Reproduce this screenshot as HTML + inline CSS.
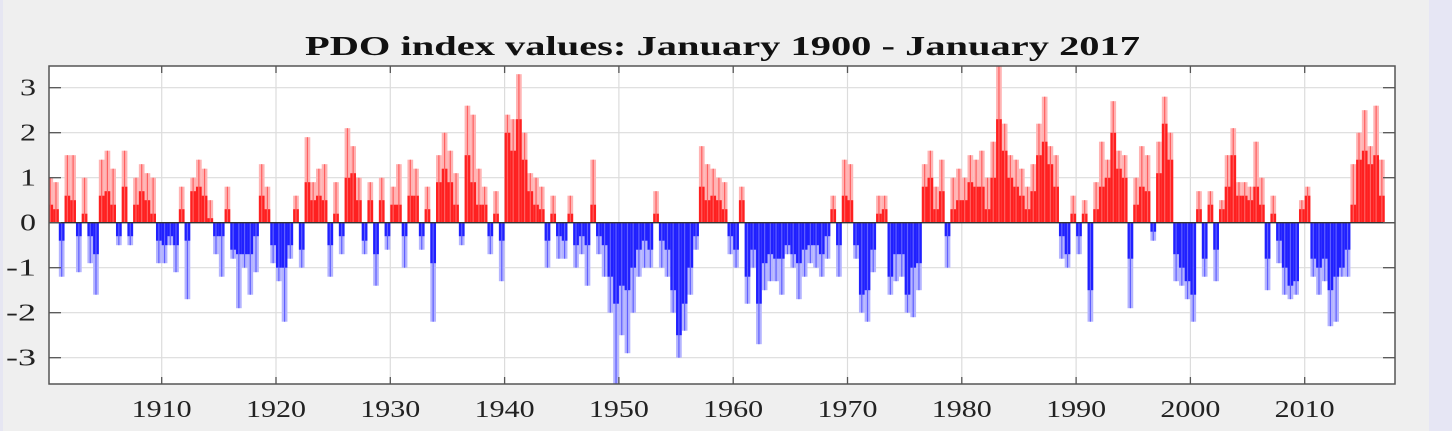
<!DOCTYPE html>
<html><head><meta charset="utf-8"><style>
html,body{margin:0;padding:0;background:#efefef;}
#wrap{position:relative;width:1452px;height:431px;overflow:hidden;background:#efefef;}
#lstrip{position:absolute;left:0;top:0;width:3px;height:431px;background:#e6e6f2;}
#rstrip{position:absolute;left:1429px;top:0;width:23px;height:431px;background:#e6e6f4;}
</style></head><body>
<div id="wrap">
<div id="lstrip"></div>
<div id="rstrip"></div>
<svg id="chart" width="1452" height="431" style="position:absolute;left:0;top:0"></svg>
</div>
<script>
const startYear = 1900;
// half-year core values (solid bars), two per year 1900..2016
const coreValues = [.4,.3,-.4,.6,.5,-.3,.2,-.3,-.7,.6,.7,.4,-.3,.8,-.3,.4,.7,.5,.2,-.4,
-.5,-.3,-.5,.3,-.4,.7,.8,.6,.1,-.3,-.3,.3,-.6,-.7,-.7,-.7,-.3,.6,.3,-.5,
-1.0,-1.0,-.5,.3,-.6,.9,.5,.6,.5,-.5,.2,-.3,1.0,1.1,.5,-.4,.5,-.7,.5,-.3,
.4,.4,-.3,.6,.6,-.3,.3,-.9,.9,1.2,.9,.4,-.3,1.5,.9,.4,.4,-.3,.2,-.4,
2.0,1.6,2.3,1.4,.7,.4,.3,-.4,.2,-.3,-.4,.2,-.5,-.3,-.5,.4,-.3,-.5,-1.2,-1.8,
-1.4,-1.5,-1.0,-.6,-.4,-.6,.2,-.4,-.6,-1.5,-2.5,-1.8,-1.0,-.3,.8,.5,.6,.5,.3,-.3,
-.6,.5,-1.2,-.6,-1.8,-.9,-.7,-.8,-.8,-.5,-.7,-.9,-.6,-.5,-.5,-.7,-.3,.3,-.5,.6,
.5,-.5,-1.6,-1.5,-.6,.2,.3,-1.2,-.7,-.7,-1.6,-1.0,-.9,.8,1.0,.3,.7,-.3,.3,.5,
.5,.9,.8,.8,.3,1.0,2.3,1.6,1.0,.8,.6,.3,.7,1.5,1.8,1.3,.8,-.3,-.7,.2,
-.3,.2,-1.5,.3,.8,1.0,2.0,1.2,1.0,-.8,.4,.8,.7,-.2,1.1,2.2,1.4,-.7,-1.0,-1.3,
-1.6,.3,-.8,.4,-.6,.3,.8,1.5,.6,.6,.5,.8,.4,-.8,.2,-.4,-1.0,-1.4,-1.3,.3,
.6,-.8,-1.0,-.8,-1.5,-1.2,-1.0,-.6,.4,1.4,1.6,1.3,1.5,.6];
// half-year peak monthly values (light bars)
const peakValues = [1.0,.9,-1.2,1.5,1.5,-1.1,1.0,-.9,-1.6,1.4,1.6,1.2,-.5,1.6,-.5,1.0,1.3,1.1,1.0,-.9,
-.9,-.5,-1.1,.8,-1.7,1.0,1.4,1.2,.5,-.7,-1.2,.8,-.8,-1.9,-1.0,-1.6,-1.1,1.3,.8,-.9,
-1.3,-2.2,-.8,.6,-1.0,1.9,.9,1.2,1.3,-1.2,.9,-.7,2.1,1.7,1.0,-.7,.9,-1.4,1.0,-.6,
.8,1.3,-1.0,1.4,1.2,-.6,.8,-2.2,1.5,2.0,1.6,1.1,-.5,2.6,2.4,1.2,.8,-.7,.7,-1.3,
2.4,2.3,3.3,2.0,1.1,1.0,.8,-1.0,.6,-.8,-.8,.6,-1.0,-.7,-1.4,1.4,-.7,-1.2,-2.0,-3.6,
-2.5,-2.9,-2.0,-1.2,-1.0,-1.0,.7,-1.0,-1.2,-2.0,-3.0,-2.4,-1.6,-.6,1.7,1.3,1.2,1.0,.9,-.7,
-1.0,.8,-1.8,-1.0,-2.7,-1.5,-1.3,-1.3,-1.6,-.7,-1.0,-1.7,-1.2,-.9,-1.0,-1.2,-.8,.6,-1.2,1.4,
1.3,-.8,-2.0,-2.2,-1.1,.6,.6,-1.6,-1.3,-1.2,-2.0,-2.1,-1.5,1.3,1.6,.8,1.4,-1.0,1.0,1.2,
1.0,1.5,1.4,1.6,1.0,1.8,3.6,2.2,1.5,1.4,1.2,.8,1.3,2.2,2.8,1.7,1.5,-.8,-1.0,.6,
-.7,.5,-2.2,.9,1.8,1.4,2.7,1.6,1.5,-1.9,1.0,1.7,1.5,-.4,1.8,2.8,2.0,-1.3,-1.4,-1.7,
-2.2,.7,-1.2,.7,-1.3,.5,1.5,2.1,.9,.9,.8,1.8,1.0,-1.5,.6,-.9,-1.6,-1.7,-1.6,.5,
.8,-1.2,-1.6,-1.3,-2.3,-2.2,-1.2,-1.2,1.3,2.0,2.5,1.7,2.6,1.4];
const yTicks = [3,2,1,0,-1,-2,-3];
const xTicks = [1910,1920,1930,1940,1950,1960,1970,1980,1990,2000,2010];

const L=49,R=1395,T=66,B=384;
const xMin=1900.14,xMax=2017.9;
function xs(v){return L+(v-xMin)/(xMax-xMin)*(R-L);}
function ys(v){return 222.7-v*45;}
const NS='http://www.w3.org/2000/svg';
const svg=document.getElementById('chart');
function mk(tag,attrs,parent){const e=document.createElementNS(NS,tag);for(const k in attrs)e.setAttribute(k,attrs[k]);(parent||svg).appendChild(e);return e;}

mk('rect',{x:L,y:T,width:R-L,height:B-T,fill:'#fff'});
const grid=mk('g',{});


yTicks.forEach(t=>{mk('line',{x1:L,x2:R,y1:ys(t),y2:ys(t),stroke:'#dcdcdc','stroke-width':1.2},grid);});
xTicks.forEach(t=>{mk('line',{x1:xs(t),x2:xs(t),y1:T,y2:B,stroke:'#dcdcdc','stroke-width':1.2},grid);});

const clip=mk('clipPath',{id:'pc'});mk('rect',{x:L,y:T,width:R-L,height:B-T},clip);
const bars=mk('g',{'clip-path':'url(#pc)'});


function drawBar(i,v,light){
  const x0=xs(startYear+i*0.5),x1=xs(startYear+(i+1)*0.5);
  const y0=ys(0),y1=ys(v);
  const pos=v>=0;
  const r=mk('rect',{x:x0,y:Math.min(y0,y1),width:x1-x0,height:Math.abs(y1-y0),
    fill: pos?(light?'#ffb4b4':'#ff2020'):(light?'#b4b4ff':'#2020ff')},bars);
  
  
}
peakValues.forEach((v,i)=>drawBar(i,v,true));
coreValues.forEach((v,i)=>drawBar(i,v,false));
peakValues.forEach((v,i)=>{
  const xm=xs(startYear+i*0.5+0.25);
  const s=mk('line',{x1:xm,x2:xm,y1:ys(0),y2:ys(v),stroke:v>=0?'#ff6060':'#6060ff','stroke-width':1.2},bars);
  
  
});
const zl=mk('line',{x1:L,x2:R,y1:ys(0),y2:ys(0),stroke:'#333','stroke-width':1.3});



const ax=mk('rect',{x:L,y:T,width:R-L,height:B-T,fill:'none',stroke:'#555','stroke-width':1.5});


const font='"Liberation Serif", serif';
yTicks.forEach(t=>{
  const y=ys(t);
  mk('line',{x1:L,x2:L+12,y1:y,y2:y,stroke:'#555','stroke-width':1.3});
  mk('line',{x1:R-12,x2:R,y1:y,y2:y,stroke:'#555','stroke-width':1.3});
  const lbl=String(t);
  const tx=mk('text',{x:36,y:y+8,'text-anchor':'end','font-family':font,'font-size':24,fill:'#222',
    textLength:lbl.length>1?30:16,lengthAdjust:'spacingAndGlyphs'});
  tx.textContent=lbl;
  
  
});
xTicks.forEach(t=>{
  const x=xs(t);
  mk('line',{x1:x,x2:x,y1:T,y2:T+7,stroke:'#555','stroke-width':1.3});
  mk('line',{x1:x,x2:x,y1:B-7,y2:B,stroke:'#555','stroke-width':1.3});
  const tx=mk('text',{x:x-30,y:417,'font-family':font,'font-size':24,fill:'#222',
    textLength:60,lengthAdjust:'spacingAndGlyphs'});
  tx.textContent=t;
  
  
});
const title=mk('text',{x:305,y:55,'font-family':font,'font-size':27,'font-weight':'bold',fill:'#111',
  textLength:835,lengthAdjust:'spacingAndGlyphs'});
title.textContent='PDO index values: January 1900 - January 2017';


</script>
</body></html>
